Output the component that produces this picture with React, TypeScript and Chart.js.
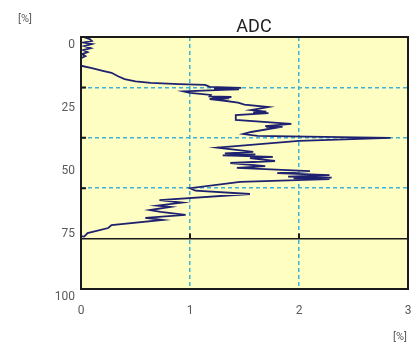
import { useEffect, useRef } from 'react';
import { Chart, registerables } from 'chart.js';
Chart.register(...registerables);

const title = 'ADC';
const unitLabel = '[%]';
// ADC value [%] along the profile, and depth (0 at top)
const adc = [
  0.02, 0.08, 0.1, 0.02, 0.1, 0.03, 0.09, 0.02, 0.06, 0.01, 0.04, 0.0, 0.0,
  0.1, 0.2, 0.28, 0.34, 0.4, 0.5, 0.64, 0.9, 1.14, 1.18, 1.47, 1.22, 1.45, 1.3,
  0.94, 1.0, 1.19, 1.18, 1.38, 1.2, 1.36, 1.18, 1.3, 1.44, 1.5, 1.72, 1.56, 1.7,
  1.58, 1.72, 1.42, 1.42, 1.93, 1.69, 1.85, 1.7, 1.78, 1.56, 1.49, 1.62, 2.84,
  2.0, 1.25, 1.58, 1.32, 1.6, 1.3, 1.76, 1.55, 1.78, 1.37, 1.69, 1.43, 2.1, 1.8,
  2.28, 1.9, 2.3, 1.95, 2.28, 1.46, 1.37, 1.0, 1.05, 1.55, 0.72, 0.93, 0.7,
  0.82, 0.63, 0.73, 0.96, 0.59, 0.75, 0.28, 0.25, 0.06, 0.03, 0.0,
];
const depth = [
  0, 0.8, 1.6, 2.2, 2.8, 3.6, 4.4, 5.2, 6.0, 6.8, 7.6, 8.4, 11.4,
  12.4, 13.4, 14.2, 15.6, 16.7, 17.6, 18.2, 18.7, 19.0, 19.8, 20.2, 20.5, 20.8, 21.0,
  21.6, 22.2, 23.0, 23.6, 23.8, 24.1, 24.3, 24.6, 25.2, 26.0, 26.8, 27.8, 29.0, 29.6,
  29.9, 30.2, 31.0, 32.9, 34.5, 35.4, 35.7, 35.9, 36.1, 37.7, 38.5, 39.2, 40.0,
  41.2, 43.9, 45.6, 46.2, 46.6, 47.0, 47.6, 48.1, 49.2, 50.0, 51.2, 51.9, 53.2, 54.0,
  54.8, 55.4, 55.8, 56.1, 56.4, 57.5, 58.0, 60.0, 61.0, 62.3, 64.7, 65.7, 66.9,
  67.4, 68.7, 69.4, 70.6, 71.8, 72.6, 74.6, 75.8, 77.8, 79.2, 79.0,
];
const xMin = 0, xMax = 3, xStep = 1;
const yMin = 0, yMax = 100, yLabelStep = 25, yGridStep = 20;
const solidDepth = 80;

const BG = '#fffec2';
const GRID = '#3fb2d6';
const LINE = '#1e2170';
const TEXT = '#5a5a5a';
const FONT = 'Roboto, "Noto Sans", sans-serif';

export default function App() {
  const ref = useRef<HTMLCanvasElement | null>(null);
  useEffect(() => {
    const canvas = ref.current;
    if (!canvas) return;
    const points = adc.map((v, i) => ({ x: v, y: depth[i] }));
    const deco = {
      id: 'deco',
      beforeDraw(chart: any) {
        const { ctx, chartArea: a } = chart;
        ctx.save();
        ctx.fillStyle = BG;
        ctx.fillRect(a.left, a.top, a.right - a.left, a.bottom - a.top);
        ctx.restore();
      },
      afterDraw(chart: any) {
        const { ctx, chartArea: a } = chart;
        const xs = chart.scales.x;
        const ys = chart.scales.y2;
        ctx.save();
        ctx.strokeStyle = '#1a1a1a';
        ctx.lineWidth = 2;
        ctx.strokeRect(a.left, a.top, a.right - a.left, a.bottom - a.top);
        ctx.beginPath();
        for (let v = yGridStep; v < solidDepth; v += yGridStep) {
          const py = ys.getPixelForValue(v);
          ctx.moveTo(a.left, py);
          ctx.lineTo(a.left + 5, py);
        }
        const pySolid = ys.getPixelForValue(solidDepth);
        for (let v = xMin + xStep; v < xMax; v += xStep) {
          const px = xs.getPixelForValue(v);
          ctx.moveTo(px, pySolid);
          ctx.lineTo(px, pySolid - 5);
        }
        ctx.stroke();
        ctx.fillStyle = '#222';
        ctx.font = '18px ' + FONT;
        ctx.textAlign = 'center';
        ctx.textBaseline = 'middle';
        ctx.fillText(title, 254, 27);
        ctx.fillStyle = TEXT;
        ctx.font = '11px ' + FONT;
        ctx.fillText(unitLabel, 25, 19);
        ctx.fillText(unitLabel, 400, 337);
        ctx.restore();
      },
    };
    const chart = new Chart(canvas, {
      type: 'line',
      data: {
        datasets: [
          {
            data: points,
            borderColor: LINE,
            borderWidth: 1.8,
            pointRadius: 0,
            tension: 0,
            fill: false,
          },
        ],
      },
      options: {
        animation: false,
        responsive: false,
        parsing: false as any,
        layout: { padding: { top: 37, right: 3, left: 0, bottom: 0 } },
        plugins: { legend: { display: false }, tooltip: { enabled: false }, title: { display: false } },
        scales: {
          x: {
            type: 'linear',
            min: xMin,
            max: xMax,
            ticks: { stepSize: xStep, color: TEXT, padding: 15, font: { size: 12, family: FONT } },
            grid: {
              drawTicks: false,
              color: (c: any) => (c.tick && (c.tick.value === xMin || c.tick.value === xMax) ? 'rgba(0,0,0,0)' : GRID),
              lineWidth: 1.5,
            },
            border: { display: false, dash: [4, 3] },
            afterFit: (s: any) => { s.height = 58; s.paddingRight = 0; s.paddingLeft = 0; },
          },
          y: {
            type: 'linear',
            reverse: true,
            min: yMin,
            max: yMax,
            position: 'left',
            ticks: { stepSize: yLabelStep, color: TEXT, padding: 6, labelOffset: 8, font: { size: 12, family: FONT } },
            grid: { display: false, drawTicks: false },
            border: { display: false },
            afterFit: (s: any) => { s.width = 81; s.paddingTop = 0; s.paddingBottom = 0; },
          },
          y2: {
            type: 'linear',
            reverse: true,
            min: yMin,
            max: yMax,
            position: 'left',
            ticks: { display: false, stepSize: yGridStep },
            grid: {
              drawTicks: false,
              color: (c: any) => {
                const v = c.tick && c.tick.value;
                if (v === yMin || v === yMax) return 'rgba(0,0,0,0)';
                return v === solidDepth ? '#1a1a1a' : GRID;
              },
              lineWidth: (c: any) => (c.tick && c.tick.value === solidDepth ? 1.6 : 1.5),
            },
            border: {
              display: false,
              dash: (c: any) => (c.tick && c.tick.value === solidDepth ? [] : [4, 3]),
            } as any,
            afterFit: (s: any) => { s.width = 0; s.paddingTop = 0; s.paddingBottom = 0; },
          },
        },
      },
      plugins: [deco],
    } as any);
    return () => chart.destroy();
  }, []);
  return (
    <div style={{ position: 'absolute', left: 0, top: 0, width: 411, height: 347, background: '#fff' }}>
      <canvas ref={ref} width={411} height={347} style={{ display: 'block' }} />
    </div>
  );
}
